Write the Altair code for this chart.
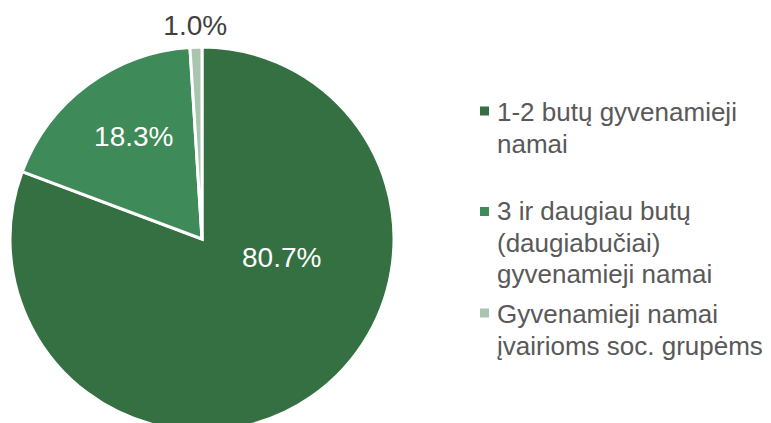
import altair as alt
import pandas as pd

categories = [
    "1-2 butų gyvenamieji namai",
    "3 ir daugiau butų (daugiabučiai) gyvenamieji namai",
    "Gyvenamieji namai įvairioms soc. grupėms",
]
legend_text = [
    "1-2 butų gyvenamieji\nnamai",
    "3 ir daugiau butų\n(daugiabučiai)\ngyvenamieji namai",
    "Gyvenamieji namai\nįvairioms soc. grupėms",
]
shares = [80.7, 18.3, 1.0]
labels = ["80.7%", "18.3%", "1.0%"]
colors = ["#357043", "#3E8A58", "#A8C5AF"]

df = pd.DataFrame({
    "category": categories,
    "legend": legend_text,
    "share": shares,
    "label": labels,
    "order": list(range(len(categories))),
})

FONT = "Liberation Sans"
CX, CY, R = 194, 231, 192

color = alt.Color("category:N", scale=alt.Scale(domain=categories, range=colors), legend=None)

base = alt.Chart(df)

pie = base.mark_arc(radius=R, stroke="white", strokeWidth=3).encode(
    theta=alt.Theta("share:Q", stack=True),
    color=color,
    order=alt.Order("order:Q"),
    x=alt.value(CX),
    y=alt.value(CY),
)

stacked = base.transform_stack(
    stack="share", as_=["s0", "s1"], groupby=[], sort=[alt.SortField("order")]
).transform_calculate(mid="(datum.s0 + datum.s1) / 2")

label_specs = [
    (0, 82, 33, -47, "white"),
    (1, 123, 5, -2, "white"),
    (2, 214, 0, 1.5, "#404040"),
]
label_layers = []
for idx, rad, dx, dy, col in label_specs:
    label_layers.append(
        stacked.transform_filter(f"datum.order == {idx}").mark_text(
            radius=rad, dx=dx, dy=dy, fontSize=28, font=FONT, color=col,
            align="center", baseline="middle",
        ).encode(
            theta=alt.Theta("mid:Q", scale=alt.Scale(domain=[0, 100], range=[0, 6.283185307])),
            text="label:N",
            x=alt.value(CX),
            y=alt.value(CY),
        )
    )

# legend (first-line baseline, square centre) in view pixels
legend_specs = [(0, 113, 103), (1, 212, 203.5), (2, 315, 305)]
legend_layers = []
for idx, base_y, sq_y in legend_specs:
    sub = base.transform_filter(f"datum.order == {idx}")
    legend_layers.append(
        sub.mark_point(shape="square", filled=True, size=81, opacity=1).encode(
            color=color, x=alt.value(476.5), y=alt.value(sq_y)
        )
    )
    legend_layers.append(
        sub.mark_text(
            align="left", baseline="alphabetic", fontSize=26, font=FONT,
            color="#595959", lineBreak="\n", lineHeight=31.5,
        ).encode(text="legend:N", x=alt.value(489), y=alt.value(base_y))
    )

chart = alt.layer(pie, *label_layers, *legend_layers).resolve_scale(
    theta="independent"
).properties(
    width=755, height=415, padding=0,
    autosize=alt.AutoSizeParams(type="none"),
).configure_view(stroke=None)

chart.save("out.html", embed_options={"renderer": "svg", "actions": False})
